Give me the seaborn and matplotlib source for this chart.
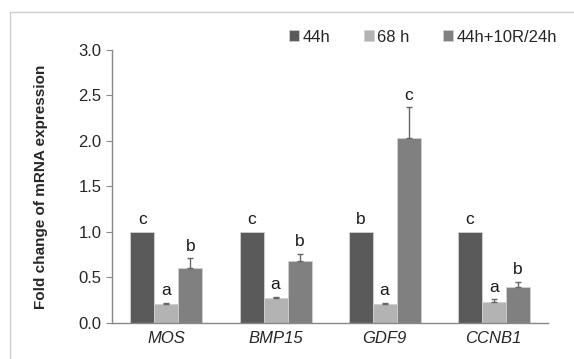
import pandas as pd
import numpy as np
import matplotlib.pyplot as plt
import seaborn as sns
from matplotlib.patches import Rectangle

genes = ["MOS", "BMP15", "GDF9", "CCNB1"]
groups = ["44h", "68 h", "44h+10R/24h"]
val_44h = [1.0, 1.0, 1.0, 1.0]
val_68h = [0.21, 0.28, 0.21, 0.23]
val_10r = [0.60, 0.68, 2.03, 0.40]
err_44h = [0.0, 0.0, 0.0, 0.0]
err_68h = [0.01, 0.01, 0.01, 0.03]
err_10r = [0.11, 0.08, 0.34, 0.05]
let_44h = ["c", "c", "b", "c"]
let_68h = ["a", "a", "a", "a"]
let_10r = ["b", "b", "c", "b"]

colors = ["#5a5a5a", "#b3b3b3", "#808080"]

data = pd.DataFrame({
    "gene": genes * 3,
    "group": [g for g in groups for _ in genes],
    "value": val_44h + val_68h + val_10r,
    "err": err_44h + err_68h + err_10r,
    "letter": let_44h + let_68h + let_10r,
})

sns.set_style("white")
plt.rcParams["font.family"] = ["Liberation Sans", "DejaVu Sans"]

fig = plt.figure(figsize=(5.74, 3.59), dpi=100)
ax = fig.add_axes([0.195, 0.1003, 0.76, 0.7607])

sns.barplot(data=data, x="gene", y="value", hue="group", order=genes,
            hue_order=groups, palette=colors, width=0.66, errorbar=None,
            edgecolor="#d0d0d0", linewidth=0.6, saturation=1, ax=ax)

# error bars and letters, placed on the bars seaborn drew
bars = [p for p in ax.patches if p.get_height() > 0 and p.get_width() < 1]
for i, p in enumerate(bars[:len(data)]):
    row = data.iloc[i]
    cx = p.get_x() + p.get_width() / 2
    top = p.get_height()
    if row["err"] > 0:
        ax.errorbar(cx, top, yerr=[[0], [row["err"]]], fmt="none",
                    ecolor="#666666", elinewidth=1, capsize=2, capthick=1)
    ax.text(cx, top + row["err"] + 0.05, row["letter"], ha="center",
            va="bottom", fontsize=12.5, color="#1a1a1a")

ax.set_xlim(-0.5, 3.5)
ax.set_ylim(0, 3.0)
ax.set_yticks(np.arange(0, 3.01, 0.5))
ax.set_yticklabels([f"{v:.1f}" for v in np.arange(0, 3.01, 0.5)], fontsize=12)
ax.set_xticks(range(4))
ax.set_xticklabels(genes, fontsize=12, style="italic")
ax.set_xticks(np.arange(-0.5, 3.6, 1), minor=True)
ax.tick_params(axis="x", which="major", length=0, pad=6)
ax.tick_params(axis="x", which="minor", length=4, color="#888888", direction="out")
ax.tick_params(axis="y", length=4, color="#888888", direction="out", left=True)
ax.set_xlabel("")
ax.set_ylabel("Fold change of mRNA expression", fontsize=11, fontweight="bold",
              labelpad=22)
for s in ["top", "right"]:
    ax.spines[s].set_visible(False)
for s in ["left", "bottom"]:
    ax.spines[s].set_color("#888888")
    ax.spines[s].set_linewidth(1)

leg = ax.legend(loc="center right", bbox_to_anchor=(1.035, 1.047), ncol=3,
                frameon=False, fontsize=12, handlelength=0.6, handleheight=0.6,
                handletextpad=0.2, columnspacing=2.0, borderaxespad=0)

fig.patches.append(Rectangle((10 / 574, -0.1), 1.0, 1 - 12 / 359 + 0.1,
                             transform=fig.transFigure, fill=False,
                             edgecolor="#cccccc", linewidth=1))

fig.savefig("out.png", dpi=100)
